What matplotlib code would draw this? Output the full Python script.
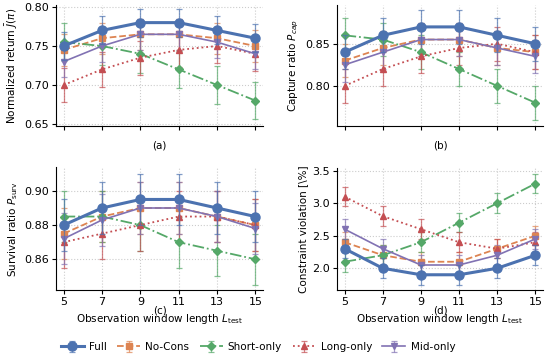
import matplotlib
matplotlib.use("Agg")
import matplotlib.pyplot as plt
import numpy as np

x = [5, 7, 9, 11, 13, 15]
methods = ["Full", "No-Cons", "Short-only", "Long-only", "Mid-only"]

ret = {
    "Full":       [0.750, 0.770, 0.780, 0.780, 0.770, 0.760],
    "No-Cons":    [0.745, 0.760, 0.765, 0.765, 0.760, 0.750],
    "Short-only": [0.755, 0.750, 0.740, 0.720, 0.700, 0.680],
    "Long-only":  [0.700, 0.720, 0.735, 0.745, 0.750, 0.740],
    "Mid-only":   [0.730, 0.750, 0.765, 0.765, 0.755, 0.740],
}
ret_err = {"Full": 0.018, "No-Cons": 0.02, "Short-only": 0.024, "Long-only": 0.022, "Mid-only": 0.02}

cap = {
    "Full":       [0.840, 0.860, 0.870, 0.870, 0.860, 0.850],
    "No-Cons":    [0.830, 0.845, 0.855, 0.855, 0.845, 0.840],
    "Short-only": [0.860, 0.855, 0.840, 0.820, 0.800, 0.780],
    "Long-only":  [0.800, 0.820, 0.835, 0.845, 0.850, 0.840],
    "Mid-only":   [0.825, 0.840, 0.855, 0.855, 0.845, 0.835],
}
cap_err = {"Full": 0.02, "No-Cons": 0.02, "Short-only": 0.02, "Long-only": 0.02, "Mid-only": 0.02}

surv = {
    "Full":       [0.880, 0.890, 0.895, 0.895, 0.890, 0.885],
    "No-Cons":    [0.875, 0.885, 0.890, 0.890, 0.885, 0.880],
    "Short-only": [0.885, 0.885, 0.880, 0.870, 0.865, 0.860],
    "Long-only":  [0.870, 0.875, 0.880, 0.885, 0.885, 0.880],
    "Mid-only":   [0.872, 0.883, 0.890, 0.890, 0.885, 0.878],
}
surv_err = {"Full": 0.015, "No-Cons": 0.015, "Short-only": 0.015, "Long-only": 0.015, "Mid-only": 0.015}

viol = {
    "Full":       [2.30, 2.00, 1.90, 1.90, 2.00, 2.20],
    "No-Cons":    [2.40, 2.20, 2.10, 2.10, 2.30, 2.50],
    "Short-only": [2.10, 2.20, 2.40, 2.70, 3.00, 3.30],
    "Long-only":  [3.10, 2.80, 2.60, 2.40, 2.30, 2.40],
    "Mid-only":   [2.60, 2.30, 2.05, 2.05, 2.20, 2.45],
}
viol_err = {"Full": 0.15, "No-Cons": 0.15, "Short-only": 0.15, "Long-only": 0.15, "Mid-only": 0.15}

styles = {
    "Full":       dict(color="#4C72B0", ls="-",  marker="o", lw=2.2, ms=6.5),
    "No-Cons":    dict(color="#DD8452", ls="--", marker="s", lw=1.3, ms=4.5),
    "Short-only": dict(color="#55A868", ls="-.", marker="D", lw=1.3, ms=4.5),
    "Long-only":  dict(color="#C44E52", ls=":",  marker="^", lw=1.3, ms=4.5),
    "Mid-only":   dict(color="#8172B3", ls="-",  marker="v", lw=1.2, ms=4.5),
}

FS_TICK = 8
FS_LAB = 7.5

fig = plt.figure(figsize=(5.5, 3.56), dpi=100)
W, H = 550, 356
def add_ax(l, t, r, b):
    return fig.add_axes([l / W, 1 - b / H, (r - l) / W, (b - t) / H])

ax_a = add_ax(56, 5, 263, 126)
ax_b = add_ax(337, 5, 543, 126)
ax_c = add_ax(56, 167, 263, 290)
ax_d = add_ax(337, 168, 543, 290)

panels = [
    (ax_a, ret, ret_err, r"Normalized return $\bar{J}(\pi)$", (0.6474, 0.8026), [0.65, 0.70, 0.75, 0.80], "(a)", False),
    (ax_b, cap, cap_err, r"Capture ratio $P_{cap}$", (0.7524, 0.896), [0.80, 0.85], "(b)", False),
    (ax_c, surv, surv_err, r"Survival ratio $P_{\rm surv}$", (0.842, 0.914), [0.86, 0.88, 0.90], "(c)", True),
    (ax_d, viol, viol_err, "Constraint violation [\\%]", (1.666, 3.54), [2.0, 2.5, 3.0, 3.5], "(d)", True),
]

handles = []
for ax, data, err, ylabel, ylim, yticks, lab, bottom in panels:
    for m in methods:
        st = styles[m]
        h = ax.errorbar(x, data[m], yerr=err[m], color=st["color"], ls=st["ls"],
                        marker=st["marker"], lw=st["lw"], ms=st["ms"],
                        capsize=2.5, elinewidth=0.9, capthick=0.9, ecolor=st["color"],
                        label=m, zorder=3 if m != "Full" else 4)
        for c in h[1]:
            c.set_alpha(0.7)
        for c in h[2]:
            c.set_alpha(0.7)
        if ax is ax_a:
            handles.append(h)
    ax.set_ylim(*ylim)
    ax.set_yticks(yticks)
    ax.set_xlim(4.6, 15.4)
    ax.set_xticks(x)
    ax.grid(True, ls=":", color="#cccccc", lw=0.8)
    ax.spines["top"].set_visible(False)
    ax.spines["right"].set_visible(False)
    ax.set_ylabel(ylabel, fontsize=FS_LAB, labelpad=3)
    ax.tick_params(labelsize=FS_TICK, length=3, pad=2)
    if bottom:
        ax.set_xlabel(r"Observation window length $L_{\rm test}$", fontsize=FS_LAB, labelpad=4)
        ax.text(0.5, -0.165, lab, transform=ax.transAxes, ha="center", va="center", fontsize=FS_LAB)
    else:
        ax.set_xticklabels([])
        ax.text(0.5, -0.16, lab, transform=ax.transAxes, ha="center", va="center", fontsize=FS_LAB)

ax_d.set_yticklabels(["2.0", "2.5", "3.0", "3.5"])

fig.legend(handles, methods, loc="center", bbox_to_anchor=(258 / W, 1 - 347 / H), ncol=5,
           frameon=False, fontsize=FS_LAB, handlelength=2.2, columnspacing=1.0, handletextpad=0.5)

fig.savefig("out.png", dpi=100)
